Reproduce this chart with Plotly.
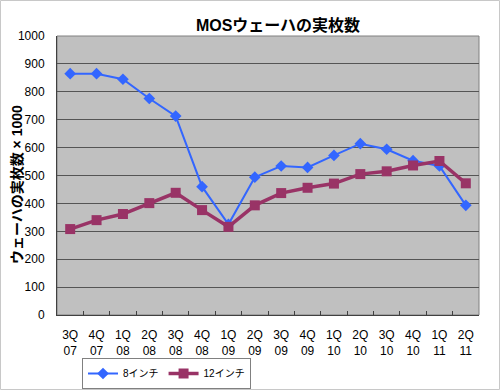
import plotly.graph_objects as go

categories = ["3Q<br>07", "4Q<br>07", "1Q<br>08", "2Q<br>08", "3Q<br>08", "4Q<br>08",
              "1Q<br>09", "2Q<br>09", "3Q<br>09", "4Q<br>09", "1Q<br>10", "2Q<br>10",
              "3Q<br>10", "4Q<br>10", "1Q<br>11", "2Q<br>11"]
inch8 = [865, 865, 845, 776, 713, 460, 325, 494, 534, 529, 572, 614, 594, 553, 534, 393]
inch12 = [308, 340, 362, 401, 438, 376, 316, 393, 437, 456, 471, 505, 515, 536, 552, 472]

FONT = "Liberation Sans, Noto Sans CJK JP, sans-serif"

fig = go.Figure()
fig.add_trace(go.Scatter(x=categories, y=inch8, name="8インチ", mode="lines+markers",
                         line=dict(color="#3366FF", width=2),
                         marker=dict(symbol="diamond", size=9, color="#3366FF")))
fig.add_trace(go.Scatter(x=categories, y=inch12, name="12インチ", mode="lines+markers",
                         line=dict(color="#993366", width=3.5),
                         marker=dict(symbol="square", size=10, color="#993366")))

fig.update_layout(
    width=500, height=390,
    margin=dict(l=57, r=21, t=36, b=75, autoexpand=False),
    paper_bgcolor="white", plot_bgcolor="#C0C0C0",
    font=dict(family=FONT, size=12, color="black"),
    title=dict(text="<b>MOSウェーハの実枚数</b>", x=278/500, xanchor="center",
               xref="container", yref="container",
               y=1 - 25/390, yanchor="middle", font=dict(size=16, family=FONT)),
    showlegend=True,
    legend=dict(orientation="h", x=(82-57)/422, xanchor="left", y=(315-358)/279, yanchor="top",
                bordercolor="#808080", borderwidth=1, bgcolor="rgba(255,255,255,0)",
                font=dict(size=10), itemwidth=30, tracegroupgap=0),
    xaxis=dict(type="category", showline=True, linecolor="#404040", linewidth=1,
               ticks="inside", tickson="boundaries", ticklen=4, tickcolor="#404040",
               showgrid=False, mirror=False, tickfont=dict(size=12),
               ticklabelstandoff=9, automargin=False,
               range=[-0.5, 15.5]),
    yaxis=dict(range=[0, 1000], dtick=100, showline=True, linecolor="#404040", linewidth=1,
               ticks="", ticklabelstandoff=9, automargin=False,
               gridcolor="#555555", gridwidth=1, zeroline=False, tickfont=dict(size=12)),
)

# y-axis title
fig.add_annotation(text="<b>ウェーハの実枚数 × 1000</b>", xref="paper", yref="paper",
                   x=(17-57)/422, y=(315-185)/279, textangle=-90, showarrow=False,
                   xanchor="center", yanchor="middle", font=dict(size=14, family=FONT))

# plot area right/top edge
fig.add_shape(type="rect", xref="paper", yref="paper", x0=0, x1=1, y0=0, y1=1,
              line=dict(color="#808080", width=1), fillcolor="rgba(0,0,0,0)", layer="below")
# outer border
fig.add_shape(type="rect", xref="paper", yref="paper",
              x0=(0.5-57)/422, x1=(499.5-57)/422, y0=(315-389.5)/279, y1=(315-0.5)/279,
              line=dict(color="#C8C8C8", width=1), fillcolor="rgba(0,0,0,0)")

fig.write_html("out.html", config={"displayModeBar": False},
               post_script="document.body.style.margin='0';document.body.style.overflow='hidden';")
